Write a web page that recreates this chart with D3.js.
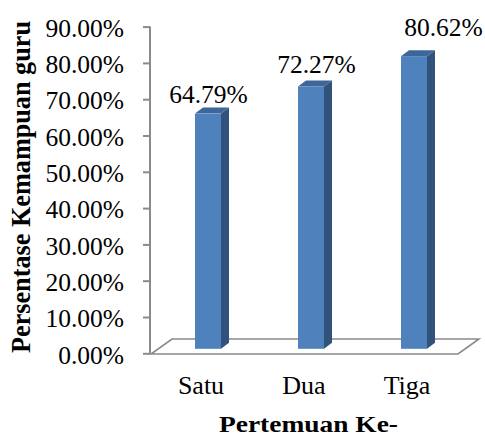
<!DOCTYPE html>
<html>
<head>
<meta charset="utf-8">
<script src="https://cdn.jsdelivr.net/npm/d3@7"></script>
<style>
  html, body { margin: 0; padding: 0; background: #fff; }
  svg { display: block; }
  text { font-family: "Liberation Serif", "Times New Roman", serif; fill: #000; }
</style>
</head>
<body>
<svg id="chart" width="485" height="435"></svg>
<script>
// Data
const categories = ["Satu", "Dua", "Tiga"];
const values = [0.6479, 0.7227, 0.8062];
const tickValues = [0, 0.1, 0.2, 0.3, 0.4, 0.5, 0.6, 0.7, 0.8, 0.9];
const yTitle = "Persentase Kemampuan guru";
const xTitle = "Pertemuan Ke-";

const svg = d3.select("#chart");
const W = 485, H = 435;

// Front plane of the 3D plot (axis plane)
const y = d3.scaleLinear().domain([0, 0.9]).range([353.3, 26.6]);
const x = d3.scaleBand().domain(categories).range([156.5, 465.5]).padding(0);

// Floor depth (perspective offset of back edge) and bar depth offsets
const floorDx = 21, floorDy = -15;
const barPlaneDy = -4.5;       // bars stand partway into the floor
const barW = 26, sideDx = 8, topDy = -6;

// Hand-placed shifts of the value labels (dx, dy)
const labelNudge = [[-2.5, 2], [2.5, -1], [26.5, -8]];

const fmt = d3.format(".2%");

// Floor outline
const f0 = y(0) + 0.7;
svg.append("path")
  .attr("d", `M151,${f0} L458,${f0} L${458 + floorDx},${f0 + floorDy} L${151 + floorDx},${f0 + floorDy} Z`)
  .attr("fill", "none")
  .attr("stroke", "#8a8a8a")
  .attr("stroke-width", 1.6)
  .attr("stroke-linejoin", "miter");

// Vertical axis
const axis = d3.axisLeft(y).tickValues(tickValues).tickFormat(fmt).tickSize(7).tickPadding(0);
const gAxis = svg.append("g").attr("transform", "translate(150,0)").call(axis);
gAxis.select(".domain").attr("stroke", "#8a8a8a").attr("stroke-width", 2).attr("d", `M0,${y(0.9)}V${y(0)}`);
gAxis.selectAll(".tick line").attr("stroke", "#8a8a8a").attr("stroke-width", 2);
gAxis.selectAll(".tick text")
  .attr("x", -26)
  .attr("dy", "0.38em")
  .attr("font-size", 25.5)
  .attr("fill", "#000");

// Bars (front, side, top faces)
const bars = svg.append("g").selectAll("g").data(values).join("g");
bars.each(function(v, i) {
  const g = d3.select(this);
  const cx = x(categories[i]) + x.bandwidth() / 2;
  const x0 = cx - barW / 2, x1 = cx + barW / 2;
  const yb = y(0) + barPlaneDy, yt = y(v) + barPlaneDy;
  // side
  g.append("path")
    .attr("d", `M${x1},${yb} L${x1},${yt} L${x1 + sideDx},${yt + topDy} L${x1 + sideDx},${yb + topDy} Z`)
    .attr("fill", "#31527b");
  // top
  g.append("path")
    .attr("d", `M${x0},${yt} L${x1},${yt} L${x1 + sideDx},${yt + topDy} L${x0 + sideDx},${yt + topDy} Z`)
    .attr("fill", "#3d6799");
  // front
  g.append("rect")
    .attr("x", x0).attr("y", yt)
    .attr("width", barW).attr("height", yb - yt)
    .attr("fill", "#4f81bd");
});

// Value labels above the bars
svg.append("g").selectAll("text").data(values).join("text")
  .attr("x", (v, i) => x(categories[i]) + x.bandwidth() / 2 + 3 + labelNudge[i][0])
  .attr("y", (v, i) => y(v) - 17 + labelNudge[i][1])
  .attr("text-anchor", "middle")
  .attr("font-size", 25.5)
  .text(v => fmt(v));

// Category labels
svg.append("g").selectAll("text").data(categories).join("text")
  .attr("x", d => x(d) + x.bandwidth() / 2 - 7)
  .attr("y", 394)
  .attr("text-anchor", "middle")
  .attr("font-size", 26)
  .text(d => d);

// Axis titles
svg.append("text")
  .attr("x", 219).attr("y", 431.5)
  .attr("font-size", 22.5)
  .attr("font-weight", "bold")
  .attr("textLength", 179)
  .attr("lengthAdjust", "spacingAndGlyphs")
  .text(xTitle);

svg.append("text")
  .attr("transform", "translate(30,353) rotate(-90)")
  .attr("font-size", 27)
  .attr("font-weight", "bold")
  .attr("textLength", 332)
  .attr("lengthAdjust", "spacingAndGlyphs")
  .text(yTitle);
</script>
</body>
</html>
